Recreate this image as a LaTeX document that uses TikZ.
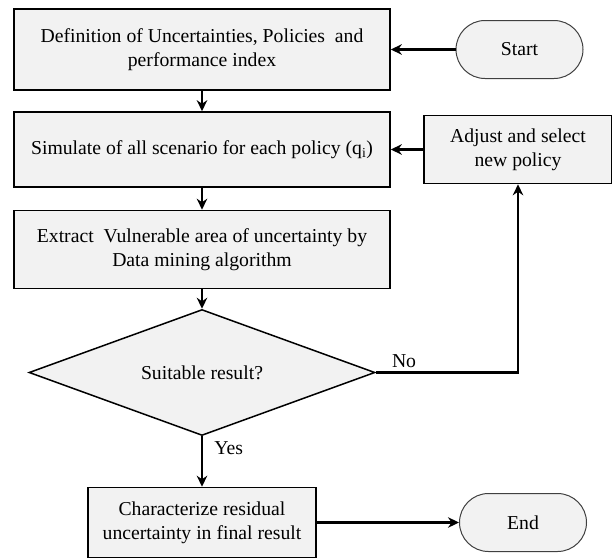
\documentclass[tikz,border=0pt]{standalone}
\usepackage{fontspec}
\setmainfont{Liberation Serif}
\usetikzlibrary{shapes.geometric, arrows.meta, positioning}
\definecolor{boxgray}{HTML}{F2F2F2}
\tikzstyle{arrow} = [line width=2.2pt,->,>={Stealth[length=11pt,width=10.5pt]}]
\tikzstyle{startstop} = [rectangle, rounded corners=29pt, minimum width=127pt, minimum height=58pt, text centered, draw=black!75, line width=1pt, fill=boxgray]
\tikzstyle{process} = [rectangle, minimum width=376pt, minimum height=78pt, text centered, align=center, draw=black, line width=1.6pt, fill=boxgray]
\tikzstyle{decision} = [diamond, aspect=2.75, inner sep=0pt, minimum width=346pt, minimum height=126pt, text centered, draw=black, line width=1.5pt, fill=boxgray]

\begin{document}
\begin{tikzpicture}[node distance=100pt, font=\fontsize{19.7}{24}\selectfont]

\useasboundingbox (0,0) rectangle (612pt,-557pt);

\node (def) [process, minimum height=81pt] at (202pt,-49.5pt) {Definition of Uncertainties, Policies\ \ and\\performance index};
\node (sim) [process, minimum height=75pt, below of=def] {Simulate of all scenario for each policy (q\textsubscript{i})};
\node (extract) [process, below of=sim] {Extract\ \ Vulnerable area of uncertainty by\\Data mining algorithm};
\node (suitable) [decision, below of=extract, yshift=-23pt] {Suitable result?};
\node (residual) [process, minimum width=228pt, minimum height=70pt, below of=suitable, yshift=-50pt] {Characterize residual\\uncertainty in final result};

\node (start) [startstop, right of=def, xshift=217.5pt] {Start};
\node (adjust) [process, minimum width=188pt, minimum height=68pt, right of=sim, xshift=216pt] {Adjust and select\\new policy};
\node (end) [startstop, right of=residual, xshift=221pt] {End};


\draw [arrow] (start) -- (def);
\draw [arrow] (def) -- (sim);
\draw [arrow] (sim) -- (extract);
\draw [arrow] (extract) -- (suitable);
\draw [arrow] (suitable) -- node[right, pos=0.23, xshift=8pt] {Yes} (residual);
\draw [arrow] (residual) -- (end);

\draw [arrow] (adjust) -- (sim);
\draw [arrow] (suitable) -| node[above, pos=0.11, xshift=-3pt] {No} (adjust);

\end{tikzpicture}
\end{document}
